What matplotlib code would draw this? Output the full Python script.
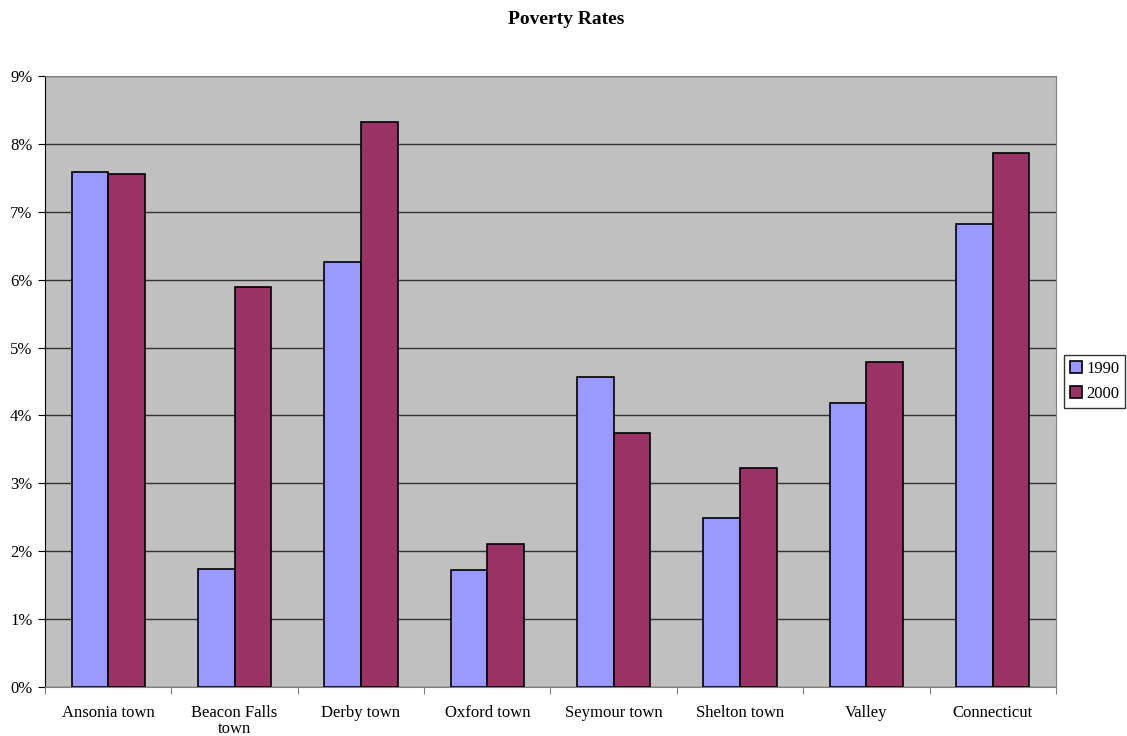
import matplotlib
matplotlib.use("Agg")
import matplotlib.pyplot as plt
import numpy as np
from matplotlib.ticker import FuncFormatter, MultipleLocator

plt.rcParams['font.family'] = ['Liberation Serif', 'DejaVu Serif']

categories = ["Ansonia town", "Beacon Falls\ntown", "Derby town", "Oxford town",
              "Seymour town", "Shelton town", "Valley", "Connecticut"]
series_names = ["1990", "2000"]
values_1990 = [7.58, 1.74, 6.26, 1.72, 4.56, 2.49, 4.19, 6.82]
values_2000 = [7.55, 5.89, 8.33, 2.10, 3.74, 3.22, 4.78, 7.86]
colors = ["#9999FF", "#993366"]

fig = plt.figure(figsize=(11.27, 7.36), dpi=100)
ax = fig.add_axes([0.0399, 0.0666, 0.8971, 0.8301])
ax.set_facecolor("#C0C0C0")

x = np.arange(len(categories))
w = 0.29
ax.bar(x - w/2, values_1990, w, color=colors[0], edgecolor="black", linewidth=1.2,
       label=series_names[0], zorder=3)
ax.bar(x + w/2, values_2000, w, color=colors[1], edgecolor="black", linewidth=1.2,
       label=series_names[1], zorder=3)

ax.set_xlim(-0.5, len(categories) - 0.5)
ax.set_ylim(0, 9)
ax.yaxis.set_major_locator(MultipleLocator(1))
ax.yaxis.set_major_formatter(FuncFormatter(lambda v, p: f"{int(round(v))}%"))
ax.grid(axis='y', color='#333333', linewidth=1, zorder=1)

ax.set_xticks(np.arange(len(categories) + 1) - 0.5, minor=False)
ax.set_xticklabels([])
ax.set_xticks(x, minor=True)
ax.set_xticklabels(categories, minor=True, fontsize=12, linespacing=1.0)
ax.tick_params(axis='x', which='minor', length=0, pad=13)
ax.tick_params(axis='x', which='major', length=5, direction='out', color='#808080')
ax.tick_params(axis='y', length=5, direction='out', labelsize=12, color='black', pad=4)

for s in ['top', 'right']:
    ax.spines[s].set_color('#808080')
ax.spines['bottom'].set_color('#808080')
ax.spines['left'].set_color('black')

fig.text(0.502, 0.973, "Poverty Rates", ha='center', va='center', fontsize=14, fontweight='bold')

leg = fig.legend(loc='center left', bbox_to_anchor=(0.944, 0.482), fontsize=12,
                 frameon=True, fancybox=False, edgecolor='black', handlelength=0.75,
                 handleheight=0.75, handletextpad=0.25, borderpad=0.35, labelspacing=0.55,
                 borderaxespad=0)
leg.get_frame().set_linewidth(1)

fig.savefig("out.png", dpi=100)
